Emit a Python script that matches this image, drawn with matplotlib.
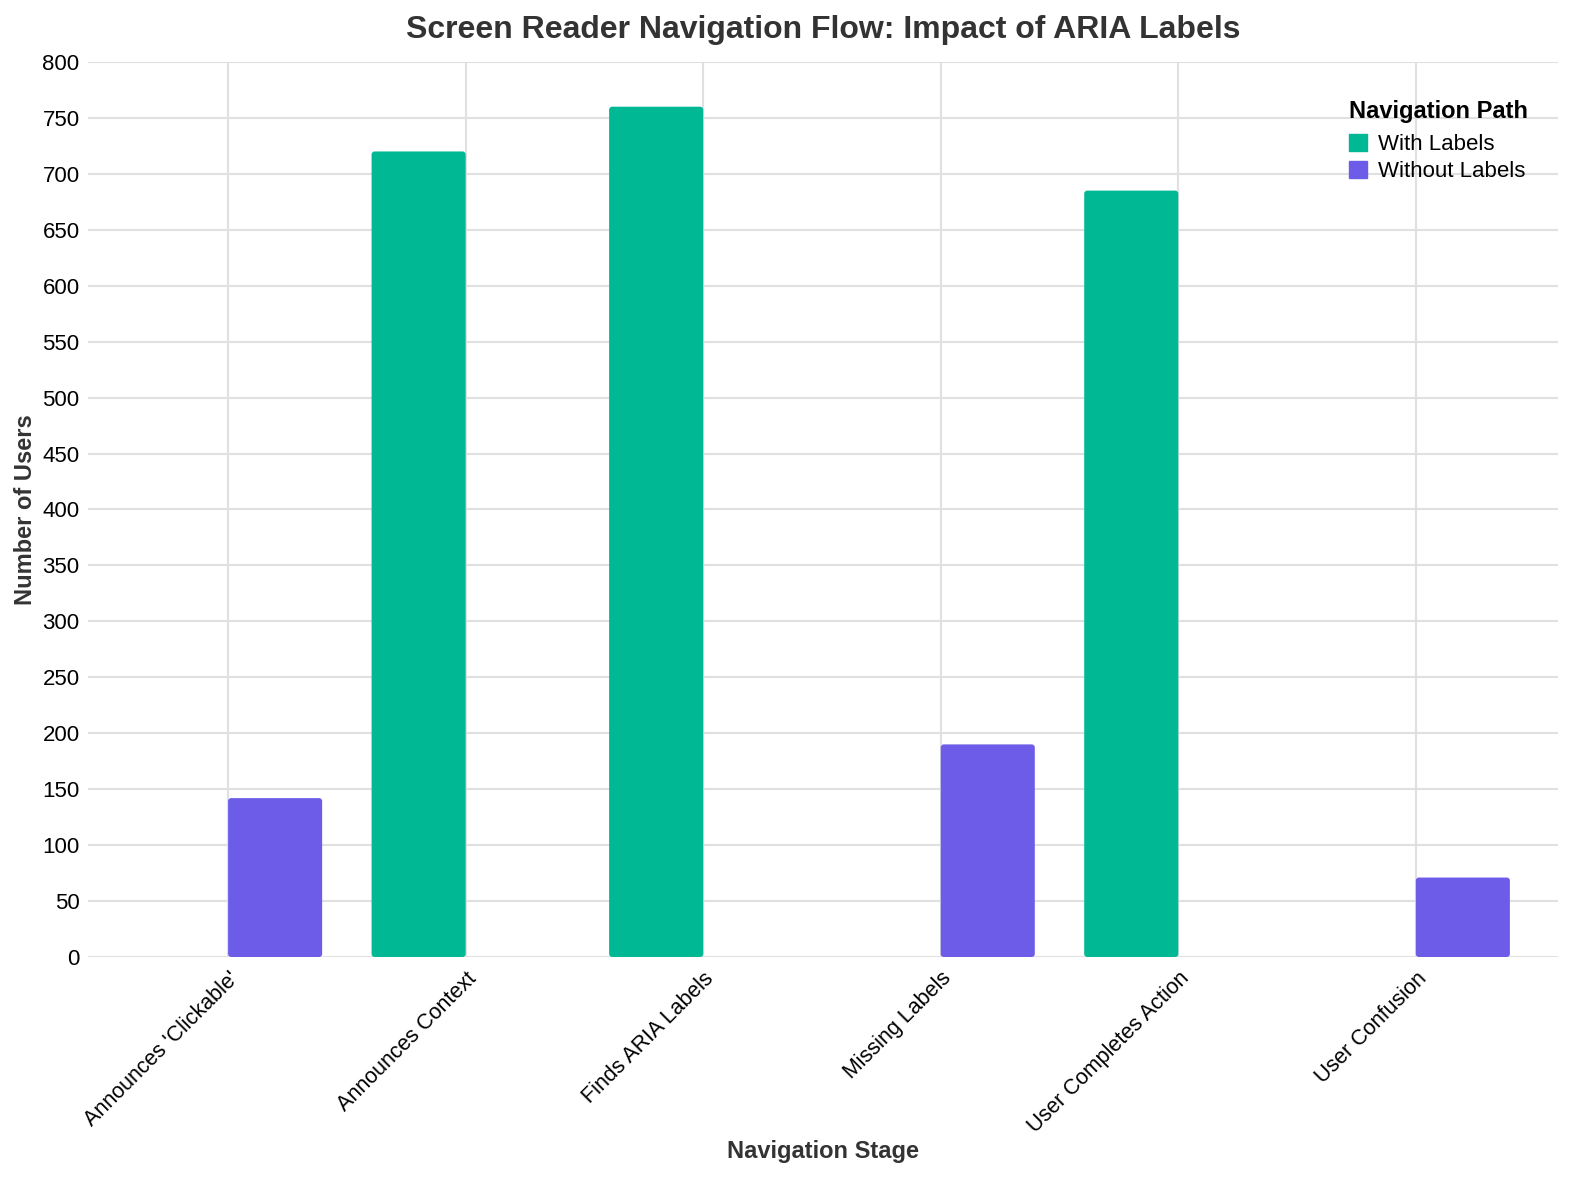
import numpy as np
import matplotlib
matplotlib.use('Agg')
import matplotlib.pyplot as plt
from matplotlib.patches import FancyBboxPatch, Patch

plt.rcParams['font.family'] = ['Liberation Sans', 'DejaVu Sans']

stages = ["Announces 'Clickable'", "Announces Context", "Finds ARIA Labels",
          "Missing Labels", "User Completes Action", "User Confusion"]
with_labels = [0, 720, 760, 0, 685, 0]
without_labels = [142, 0, 0, 190, 0, 71]
paths = ["With Labels", "Without Labels"]
colors = ["#00B894", "#6C5CE7"]

fig = plt.figure(figsize=(15.76, 11.8), dpi=100)
ax = fig.add_axes([0.0558, 0.189, 0.933, 0.7585])

x = np.arange(len(stages))
w = 0.396

b1 = ax.bar(x - w, with_labels, w, align='edge', color=colors[0])
b2 = ax.bar(x, without_labels, w, align='edge', color=colors[1])

# swap plain bars for ones with slightly rounded corners
for bars in (b1, b2):
    for r in bars:
        if r.get_height() <= 0:
            r.remove()
            continue
        p = FancyBboxPatch((r.get_x(), 0), r.get_width(), r.get_height(),
                           boxstyle="round,pad=0,rounding_size=0.013",
                           mutation_aspect=210, fc=r.get_facecolor(), ec='none', zorder=3)
        r.remove()
        ax.add_patch(p)

ax.set_xlim(-0.59, 5.6)
ax.set_ylim(0, 800)
ax.set_yticks(np.arange(0, 801, 50))
ax.set_xticks(x)
ax.set_xticklabels(stages, rotation=45, ha='right', rotation_mode='anchor', fontsize=15.5)
ax.tick_params(axis='y', labelsize=16, length=0, pad=6)
ax.tick_params(axis='x', length=0, pad=8)
ax.grid(True, color='#e0e0e0', linewidth=1.5, zorder=0)
ax.set_axisbelow(True)
for s in ax.spines.values():
    s.set_visible(False)

ax.set_title("Screen Reader Navigation Flow: Impact of ARIA Labels",
             fontsize=23, fontweight='bold', color='#333333', pad=17)
ax.set_xlabel("Navigation Stage", fontsize=17, fontweight='bold', color='#333333', labelpad=2)
ax.set_ylabel("Number of Users", fontsize=17, fontweight='bold', color='#333333', labelpad=4)

handles = [Patch(color=c, label=l) for c, l in zip(colors, paths)]
leg = ax.legend(handles=handles, title="Navigation Path", loc='upper right',
                bbox_to_anchor=(0.993, 0.98), frameon=False, fontsize=16,
                title_fontproperties={'weight': 'bold', 'size': 17},
                handlelength=0.8, handleheight=0.8, handletextpad=0.5,
                labelspacing=0.25, alignment='left')
leg._legend_box.sep = 8

fig.savefig('out.png', dpi=100)
